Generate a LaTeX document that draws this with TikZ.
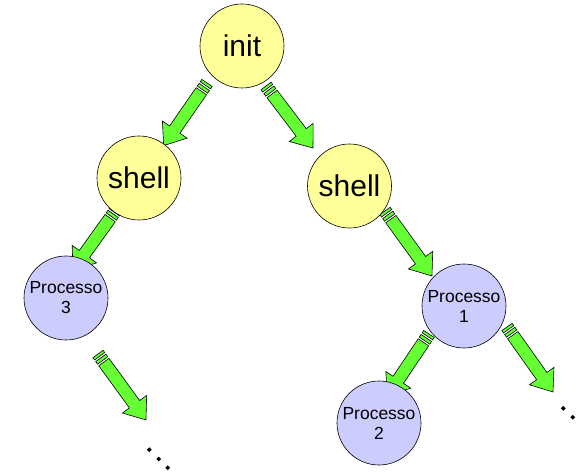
\documentclass[tikz,border=0pt]{standalone}
\usepackage{fontspec}
\setmainfont{Liberation Sans}
\usetikzlibrary{calc}
\definecolor{arrowgreen}{HTML}{66FF33}
\definecolor{nodeyellow}{HTML}{FFFF99}
\definecolor{nodeviolet}{HTML}{CCCCFF}
\tikzset{
  sarrowpart/.style={draw=black, line width=0.6pt, fill=arrowgreen, line join=miter},
  sarrow/.pic={
    \path[sarrowpart] (0pt,-6.3pt) rectangle (2.8pt,6.3pt);
    \path[sarrowpart] (4.8pt,-6.3pt) rectangle (8pt,6.3pt);
    \path[sarrowpart] (10pt,-6.3pt) -- ({#1*1pt-19.5pt},-6.3pt) -- ({#1*1pt-19.5pt},-15pt)
      -- ({#1*1pt},0pt) -- ({#1*1pt-19.5pt},15pt) -- ({#1*1pt-19.5pt},6.3pt) -- (10pt,6.3pt) -- cycle;
  },
  bubble/.style={circle, draw=black, line width=0.6pt, minimum size=84pt, inner sep=0pt},
  bignode/.style={bubble, fill=nodeyellow, font=\fontsize{30}{36}\selectfont, text height=24pt, text depth=2pt},
  procnode/.style={bubble, fill=nodeviolet, font=\fontsize{17.5}{20}\selectfont, align=center},
  dotmark/.style={fill=black}
}
\newcommand{\stripedarrow}[2]{%
  \path let \p1=($(#2)-(#1)$), \n1={atan2(\y1,\x1)}, \n2={veclen(\x1,\y1)} in
    pic[rotate=\n1] at (#1) {sarrow={\n2}};%
}
\newcommand{\diamonddot}[1]{%
  \fill[dotmark] (#1) ++(0pt,-2.4pt) -- ++(2.4pt,2.4pt) -- ++(-2.4pt,2.4pt) -- ++(-2.4pt,-2.4pt) -- cycle;%
}
\begin{document}
\begin{tikzpicture}[x=1pt,y=-1pt]
\useasboundingbox[fill=white] (0,0) rectangle (579,473);
% arrow end points
\coordinate (aT) at (207,83);   \coordinate (aH) at (163.6,145.7);
\coordinate (bT) at (266,86);   \coordinate (bH) at (313,148);
\coordinate (cT) at (116,210);  \coordinate (cH) at (73,270);
\coordinate (dT) at (98,354);   \coordinate (dH) at (146,420);
\coordinate (eT) at (385,211);  \coordinate (eH) at (432,276);
\coordinate (fT) at (429,334);  \coordinate (fH) at (387.4,396);
\coordinate (gT) at (507,327);  \coordinate (gH) at (553,392);
% arrows
\stripedarrow{aT}{aH}
\stripedarrow{bT}{bH}
\stripedarrow{cT}{cH}
\stripedarrow{dT}{dH}
\stripedarrow{eT}{eH}
\stripedarrow{fT}{fH}
\stripedarrow{gT}{gH}
% nodes
\node[bignode] (init) at (242,46) {init};
\node[bignode] (shellL) at (139,178) {shell};
\node[bignode] (shellR) at (349.5,186) {shell};
\node[procnode] (p3) at (66,298) {Processo\\3};
\node[procnode] (p1) at (464,306) {Processo\\1};
\node[procnode] (p2) at (379,423) {Processo\\2};
% continuation dots
\coordinate (d1) at (149.3,449.7);
\coordinate (d2) at (158.7,459);
\coordinate (d3) at (167.7,467.7);
\coordinate (d4) at (563.3,408.3);
\coordinate (d5) at (572.7,417.3);
\coordinate (d6) at (582,426.5);
\diamonddot{d1}\diamonddot{d2}\diamonddot{d3}
\diamonddot{d4}\diamonddot{d5}\diamonddot{d6}
\end{tikzpicture}
\end{document}
